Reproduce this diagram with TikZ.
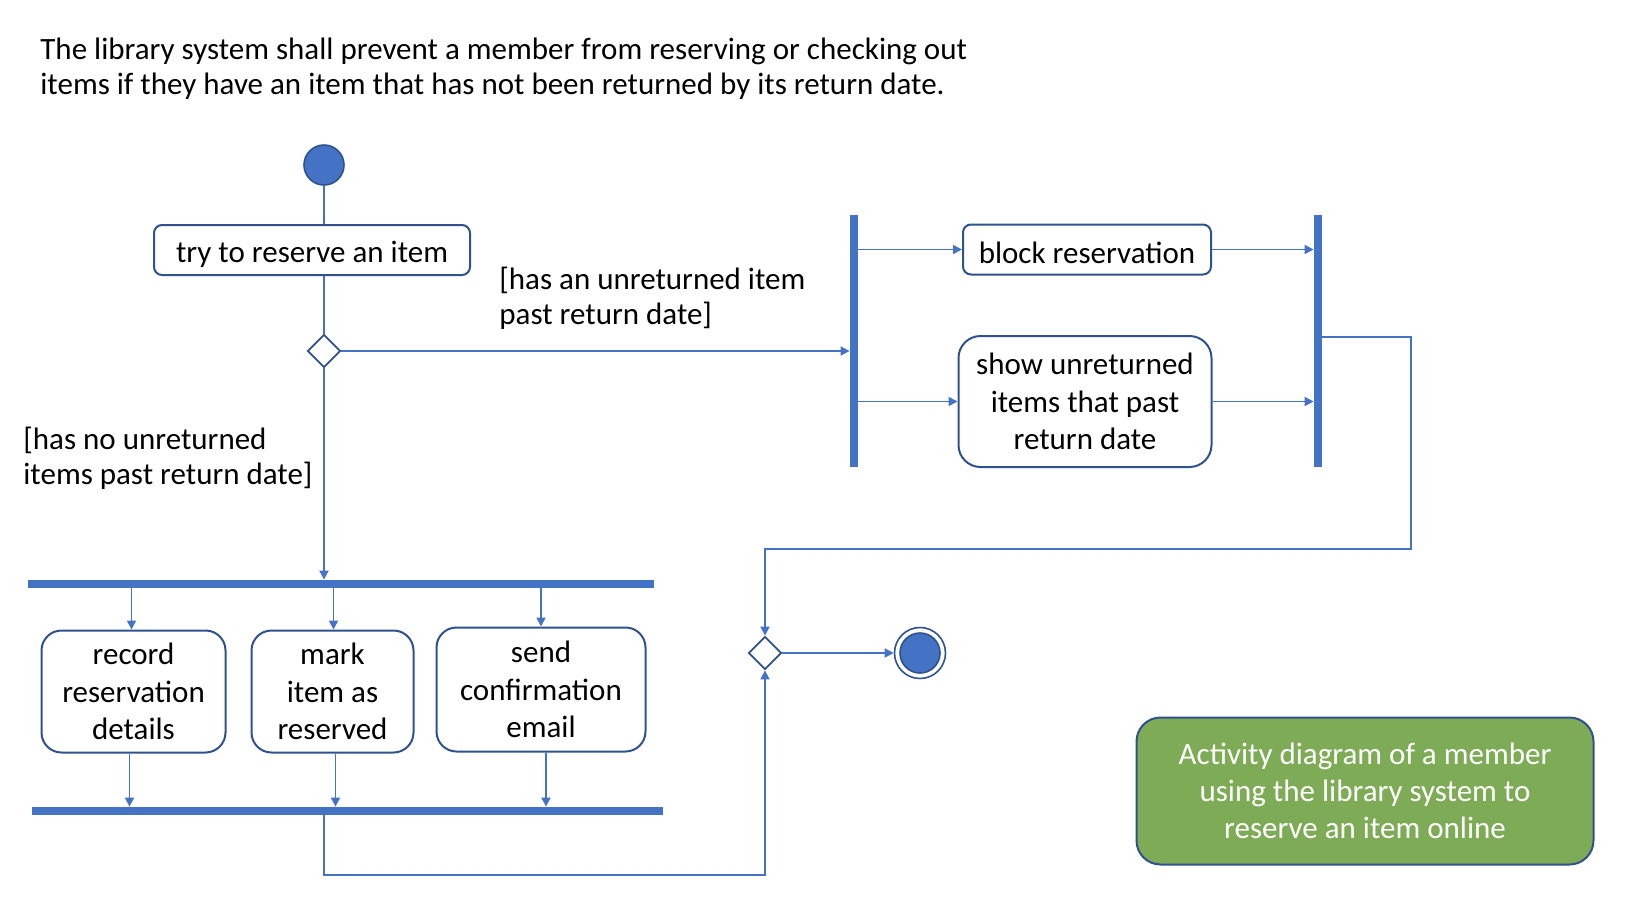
\documentclass[tikz,border=0pt]{standalone}
\usepackage{fontspec}
\setmainfont{Carlito}
\usetikzlibrary{arrows.meta,shapes.geometric,positioning}
\definecolor{umlblue}{HTML}{4472C4}
\definecolor{umledge}{HTML}{2F528F}
\definecolor{notegreen}{HTML}{7EAB55}
\tikzset{
  basic/.style    = {font=\fontsize{15.5}{18.6}\selectfont, align=center},
  action/.style   = {basic, draw=umledge, line width=1pt, rounded corners=10pt, fill=white, inner sep=0pt},
  oneline/.style  = {text height=12pt, text depth=0pt},
  heading/.style  = {basic, font=\fontsize{15.5}{17.6}\selectfont, align=left, anchor=west, inner sep=0pt},
  guard/.style    = {basic, font=\fontsize{15.5}{17.7}\selectfont, align=left, anchor=west, inner sep=0pt},
  note/.style     = {basic, draw=umledge, line width=1pt, rounded corners=12pt, fill=notegreen, text=white,
                     minimum width=228.5pt, minimum height=73.5pt, inner sep=0pt},
  bar/.style      = {fill=umlblue, inner sep=0pt},
  hbar/.style     = {bar, minimum height=4pt},
  vbar/.style     = {bar, minimum width=4pt, minimum height=126pt},
  choice/.style   = {diamond, aspect=1, draw=umledge, line width=0.9pt, fill=white, minimum size=16.5pt, inner sep=0pt},
  startdot/.style = {circle, draw=umledge, line width=0.8pt, fill=umlblue, minimum size=20pt, inner sep=0pt},
  endring/.style  = {circle, draw=umledge, line width=0.8pt, minimum size=25.5pt, inner sep=0pt},
  flow/.style     = {draw=umlblue, line width=0.9pt}
}
\begin{document}
\begin{tikzpicture}[x=0.5pt,y=-0.5pt,>={Triangle[length=4.5pt,width=4.5pt]}]
    \useasboundingbox (0,0) rectangle (1630,912);

    % requirement text at the top
    \node[heading] (req) at (40,69) {The library system shall prevent a member from reserving or checking out\\items if they have an item that has not been returned by its return date.};

    % start, first action and the decision
    \node[startdot] (start) at (324,165) {};
    \node[action, oneline, minimum width=158pt, minimum height=25pt, rounded corners=4pt] (try) at (312,250) {try to reserve an item};
    \node[choice] (check) at (324,351) {};

    \node[guard] (gyes) at (499,298) {[has an unreturned item\\past return date]};
    \node[guard] (gno) at (23,458) {[has no unreturned\\items past return date]};

    % blocked branch
    \node[vbar] (split) at (854,341) {};
    \node[action, oneline, text height=13.5pt, minimum width=124pt, minimum height=25pt, rounded corners=4pt] (block) at (1087,249.5) {block reservation};
    \node[action, minimum width=126.5pt, minimum height=65.5pt, rounded corners=11pt] (show) at (1085,401.5) {show unreturned\\items that past\\return date};
    \node[vbar] (sync) at (1318,341) {};
    \coordinate (turn) at (1411,549);

    % allowed branch
    \node[hbar, minimum width=313pt] (fork) at (341,584) {};
    \node[action, minimum width=92pt, minimum height=61pt] (record) at (133.5,691.5) {record\\reservation\\details};
    \node[action, minimum width=81pt, minimum height=61pt] (mark) at (332.5,691.5) {mark\\item as\\reserved};
    \node[action, minimum width=104.5pt, minimum height=62pt] (send) at (541,689.5) {send\\confirmation\\email};
    \node[hbar, minimum width=315.5pt] (join) at (347.5,811) {};
    \coordinate (low) at (324,875);

    % merge and end
    \node[choice] (merge) at (765,653) {};
    \node[endring] (final) at (920,653) {};
    \node[startdot] (finaldot) at (final) {};

    \node[note] (caption) at (1365,791) {Activity diagram of a member\\using the library system to\\reserve an item online};

    % connectors
    \draw[flow] (start) -- (start |- try.north);
    \draw[flow] (try.south -| check) -- (check.north);
    \draw[flow,->] (check.east) -- (check.east -| split.west);
    \draw[flow,->] (check.south) -- (check.south |- fork.north);

    \foreach \act in {block,show}
      \draw[flow,->] (split.east |- \act.west) -- (\act.west);
    \foreach \act in {block,show}
      \draw[flow,->] (\act.east) -- (\act.east -| sync.west);
    \draw[flow,->] ([yshift=2pt]sync.east) -| (turn) -| (merge.north);

    \foreach \act/\dx in {record/-1pt,mark/0.5pt,send/0pt}
      \draw[flow,->] ([xshift=\dx]\act.north |- fork.south) -- ([xshift=\dx]\act.north);
    \foreach \act/\dx in {record/-2pt,mark/1.5pt,send/2.5pt}
      \draw[flow,->] ([xshift=\dx]\act.south) -- ([xshift=\dx]\act.south |- join.north);
    \draw[flow,->] (join.south -| low) -- (low) -| (merge.south);

    \draw[flow,->] (merge.east) -- (final.west);
\end{tikzpicture}
\end{document}
